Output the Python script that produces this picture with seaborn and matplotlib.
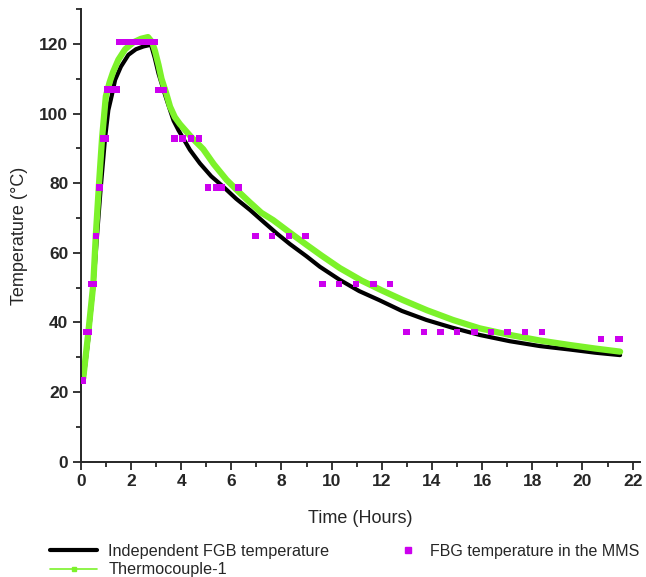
import numpy as np
import pandas as pd
import matplotlib
matplotlib.use("Agg")
import matplotlib.pyplot as plt
from matplotlib.lines import Line2D
from matplotlib.ticker import MultipleLocator
import seaborn as sns

# Independent FBG temperature (black curve)
fgb_time = [0.1, 0.3, 0.5, 0.65, 0.8, 0.97, 1.1, 1.23, 1.37, 1.6, 1.9, 2.2, 2.5, 2.8,
            2.95, 3.1, 3.25, 3.4, 3.56, 3.7, 3.89, 4.35, 4.75, 5.2, 5.68, 6.2, 6.75,
            7.3, 7.81, 8.34, 9.0, 9.53, 10.33, 11.1, 11.9, 12.8, 13.78, 14.8, 15.9,
            17.1, 18.3, 19.5, 20.5, 21.5]
fgb_temp = [23, 35, 50, 65, 79, 93, 101, 105, 109.7, 113.5, 116.9, 118.5, 119.3, 119.8,
            116, 111.5, 108, 104.5, 101, 98, 95.3, 89.6, 85.7, 82, 79, 75.5, 72.3,
            68.8, 65.6, 62.5, 59, 56, 52.2, 49, 46.4, 43.3, 40.7, 38.5, 36.4,
            34.6, 33.2, 32.2, 31.3, 30.6]

# Thermocouple-1 (green curve)
tc_time = [0.1, 0.3, 0.5, 0.6, 0.72, 0.85, 1.0, 1.15, 1.29, 1.5, 1.77, 2.1, 2.4, 2.68,
           2.85, 2.96, 3.1, 3.22, 3.4, 3.56, 3.75, 3.95, 4.4, 4.88, 5.3, 5.81, 6.3,
           6.74, 7.2, 7.67, 8.3, 9.0, 9.6, 10.33, 11.2, 12.0, 12.85, 13.8, 14.84,
           15.9, 17.1, 18.3, 19.5, 20.5, 21.5]
tc_temp = [24, 37, 51, 65, 79, 93, 105, 109, 112, 115.5, 118.5, 120.5, 121.5, 122,
           120.5, 118, 114, 110, 106, 102, 99, 97, 93.3, 89.8, 85.5, 81, 77.5,
           74.5, 71.5, 69.4, 66, 62.3, 59.2, 55.6, 52, 49.2, 46.4, 43.5, 40.7,
           38.3, 36.4, 34.8, 33.5, 32.5, 31.6]

# FBG temperature in the MMS (magenta squares)
mms_time = [0.08, 0.2, 0.3, 0.4, 0.5, 0.61, 0.74, 0.88, 0.98,
            1.05, 1.15, 1.25, 1.35, 1.45,
            1.55, 1.7, 1.85, 2.0, 2.15, 2.3, 2.45, 2.6, 2.75, 2.85, 2.95,
            3.1, 3.2, 3.3,
            3.73, 4.06, 4.39, 4.72,
            5.08, 5.42, 5.62, 6.28,
            6.96, 7.63, 8.30, 8.96,
            9.64, 10.30, 10.98, 11.66, 12.33,
            12.99, 13.68, 14.34, 15.0, 15.7, 16.36, 17.02, 17.7, 18.38,
            20.73, 21.42, 21.49]
mms_temp = [23.3, 37.2, 37.2, 51, 51, 64.9, 78.8, 92.9, 92.9,
            106.9, 106.9, 106.9, 106.9, 106.9,
            120.6, 120.6, 120.6, 120.6, 120.6, 120.6, 120.6, 120.6, 120.6, 120.6, 120.6,
            106.8, 106.8, 106.8,
            92.9, 92.9, 92.9, 92.9,
            78.8, 78.8, 78.8, 78.8,
            64.9, 64.9, 64.9, 64.9,
            51, 51, 51, 51, 51,
            37.2, 37.2, 37.2, 37.2, 37.2, 37.2, 37.2, 37.2, 37.2,
            35.3, 35.3, 35.3]

fgb = pd.DataFrame({"time": fgb_time, "temp": fgb_temp})
tc = pd.DataFrame({"time": tc_time, "temp": tc_temp})
mms = pd.DataFrame({"time": mms_time, "temp": mms_temp})

sns.set_style("ticks")
plt.rcParams["font.family"] = ["Liberation Sans", "DejaVu Sans"]

green = "#7cf22a"
magenta = "#cc00ee"

fig = plt.figure(figsize=(6.46, 5.77), dpi=100)
ax = fig.add_axes([0.125, 0.2, 0.866, 0.784])

sns.lineplot(data=fgb, x="time", y="temp", color="black", lw=3, ax=ax, sort=False)
sns.lineplot(data=tc, x="time", y="temp", color=green, lw=4.5, ax=ax, sort=False)
sns.scatterplot(data=mms, x="time", y="temp", color=magenta, marker="s", s=22,
                edgecolor="none", ax=ax, zorder=5)

ax.set_xlim(0, 22.3)
ax.set_ylim(0, 130)
ax.set_xticks(range(0, 23, 2))
ax.set_yticks(range(0, 121, 20))
ax.xaxis.set_minor_locator(MultipleLocator(1))
ax.yaxis.set_minor_locator(MultipleLocator(10))
ax.tick_params(which="major", length=6, width=1.3, labelsize=12.5, pad=3)
ax.tick_params(which="minor", length=3.5, width=1.3)
for lab in ax.get_xticklabels() + ax.get_yticklabels():
    lab.set_fontweight("bold")
for side in ["left", "bottom"]:
    ax.spines[side].set_linewidth(1.4)
sns.despine(ax=ax)

ax.set_xlabel("Time (Hours)", fontsize=13, labelpad=15)
ax.set_ylabel("Temperature (°C)", fontsize=13, labelpad=8)

# left legend column: the two curves
h_curves = [
    Line2D([], [], color="black", lw=3),
    Line2D([], [], color=green, lw=1.2, marker="s", markersize=2.5),
]
fig.legend(h_curves, ["Independent FGB temperature", "Thermocouple-1"],
           loc="upper left", bbox_to_anchor=(50 / 646, 1 - 544 / 577),
           frameon=False, fontsize=11.7, handlelength=2.9, borderpad=0,
           borderaxespad=0, labelspacing=0.2, handletextpad=0.7)

# right legend column: the FBG squares
h_pts = [Line2D([], [], color=magenta, lw=0, marker="s", markersize=4)]
fig.legend(h_pts, ["FBG temperature in the MMS"],
           loc="upper left", bbox_to_anchor=(400 / 646, 1 - 544 / 577),
           frameon=False, fontsize=11.5, handlelength=1.0, borderpad=0,
           borderaxespad=0, handletextpad=0.9)

fig.savefig("out.png", dpi=100)
